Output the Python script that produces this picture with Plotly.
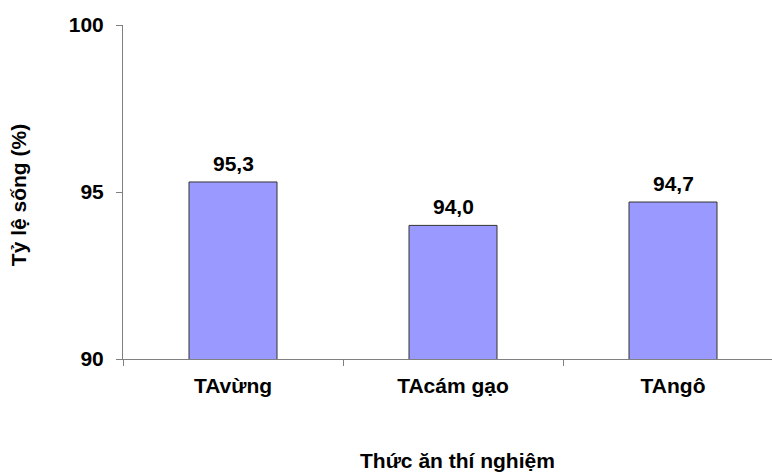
import plotly.graph_objects as go

# Survival rate by experimental feed
feeds = ["TAvừng", "TAcám gạo", "TAngô"]
survival = [95.3, 94.0, 94.7]
y_ticks = [90, 95, 100]

FONT = "Liberation Sans, Arial, sans-serif"
SIZE = 21

fig = go.Figure(
    go.Bar(
        x=feeds,
        y=survival,
        width=0.4,
        marker=dict(color="#9999FF", line=dict(color="#333333", width=1)),
        hoverinfo="skip",
    )
)

# Value labels above each bar
for f, v in zip(feeds, survival):
    fig.add_annotation(
        x=f, y=v, text=f"{v:.1f}".replace(".", ","),
        showarrow=False, yanchor="bottom", yshift=5,
        font=dict(family=FONT, size=SIZE, color="black", weight="bold"),
    )

fig.update_layout(
    width=772, height=476,
    margin=dict(l=123, r=0, t=25, b=117),
    paper_bgcolor="white", plot_bgcolor="white",
    showlegend=False,
    font=dict(family=FONT, color="black"),
    xaxis=dict(
        range=[-0.5, 2.45],
        showline=True, linecolor="#808080", linewidth=1,
        ticks="outside", tickson="boundaries", ticklen=6, tickcolor="#808080",
        tickfont=dict(family=FONT, size=SIZE, color="black", weight="bold"),
        showgrid=False, zeroline=False,
        ticklabelstandoff=8,
    ),
    yaxis=dict(
        range=[90, 100],
        tickvals=y_ticks,
        showline=True, linecolor="#808080", linewidth=1,
        ticks="outside", ticklen=6, tickcolor="#808080",
        tickfont=dict(family=FONT, size=SIZE, color="black", weight="bold"),
        showgrid=False, zeroline=False,
        ticklabelstandoff=8,
    ),
)

# Axis titles
fig.add_annotation(
    text="Tỷ lệ sống (%)", xref="paper", yref="paper",
    x=-0.162, y=0.49, textangle=-90, showarrow=False,
    xanchor="center", yanchor="middle",
    font=dict(family=FONT, size=SIZE, color="black", weight="bold"),
)
fig.add_annotation(
    text="Thức ăn thí nghiệm", xref="paper", yref="paper",
    x=0.516, y=-0.305, showarrow=False, xanchor="center", yanchor="middle",
    font=dict(family=FONT, size=SIZE, color="black", weight="bold"),
)

fig.write_html("out.html")
